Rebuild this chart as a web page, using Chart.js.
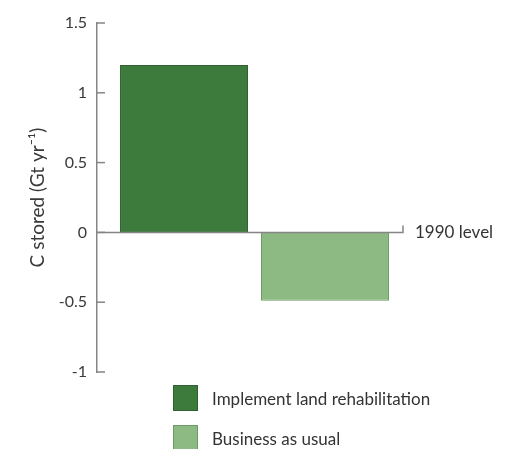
<!DOCTYPE html>
<html lang="en">
<head>
    <meta charset="UTF-8">
    <title>C stored</title>
    <style>
        body {
            margin: 0;
            background: #fff;
            font-family: Lato, "Open Sans", sans-serif;
        }
        #wrap {
            position: relative;
            width: 514px;
            height: 449px;
            overflow: hidden;
        }
        #legend {
            position: absolute;
            left: 173px;
            top: 385px;
        }
        .item {
            display: flex;
            align-items: center;
            height: 26px;
            margin-bottom: 14px;
            font-size: 17px;
            color: #333;
        }
        .box {
            width: 25px;
            height: 26px;
            margin-right: 14px;
            box-sizing: border-box;
        }
    </style>
    <script src="https://cdn.jsdelivr.net/npm/chart.js"></script>
</head>
<body>
    <div id="wrap">
        <canvas id="chart" width="514" height="449"></canvas>
        <div id="legend"></div>
    </div>

    <script>
        // Data
        let seriesNames = ['Implement land rehabilitation', 'Business as usual'];
        let seriesValues = [1.2, -0.49];
        let seriesColors = ['#3d7b3c', '#8dba82'];
        let seriesBorders = ['#2f6230', '#6f9a66'];
        let yTicks = [-1, -0.5, 0, 0.5, 1, 1.5];
        let refLabel = '1990 level';

        let axisColor = '#858585';

        // Inside tick marks, zero line with end hook and its label
        let axisExtras = {
            id: 'axisExtras',
            afterDraw(chart) {
                let ctx = chart.ctx;
                let y = chart.scales.y;
                let area = chart.chartArea;
                ctx.save();
                ctx.strokeStyle = axisColor;
                ctx.lineWidth = 1.5;
                yTicks.forEach(t => {
                    let py = y.getPixelForValue(t);
                    ctx.beginPath();
                    ctx.moveTo(area.left, py);
                    ctx.lineTo(area.left + 8, py);
                    ctx.stroke();
                });
                let zy = y.getPixelForValue(0);
                let endX = area.right - 9;
                ctx.beginPath();
                ctx.moveTo(area.left, zy);
                ctx.lineTo(endX, zy);
                ctx.lineTo(endX, zy - 7);
                ctx.stroke();
                ctx.fillStyle = '#333';
                ctx.font = '17px Lato, "Open Sans", sans-serif';
                ctx.textBaseline = 'middle';
                ctx.fillText(refLabel, endX + 12, zy);
                ctx.restore();
            }
        };

        let ctx = document.getElementById('chart').getContext('2d');
        let chart = new Chart(ctx, {
            type: 'bar',
            data: {
                labels: [''],
                datasets: seriesNames.map((name, i) => ({
                    label: name,
                    data: [seriesValues[i]],
                    backgroundColor: seriesColors[i],
                    borderColor: seriesBorders[i],
                    borderWidth: 1,
                    categoryPercentage: 0.895,
                    barPercentage: 0.908
                }))
            },
            options: {
                responsive: false,
                animation: false,
                layout: {
                    padding: { left: 24, right: 102, top: 23, bottom: 77 }
                },
                plugins: {
                    legend: { display: false },
                    tooltip: { enabled: false }
                },
                scales: {
                    x: {
                        display: false
                    },
                    y: {
                        min: -1,
                        max: 1.5,
                        afterBuildTicks(scale) {
                            scale.ticks = yTicks.map(v => ({ value: v }));
                        },
                        afterFit(scale) {
                            scale.width = 73;
                        },
                        grid: { display: false, drawTicks: false },
                        border: { display: true, color: axisColor, width: 1.5 },
                        ticks: {
                            color: '#3a3a3a',
                            padding: 10,
                            font: { family: 'Lato', size: 16 },
                            callback: v => String(v)
                        },
                        title: {
                            display: true,
                            text: 'C stored (Gt yr\u207B\u00B9)',
                            color: '#3a3a3a',
                            padding: { top: 2, bottom: 0 },
                            font: { family: 'Lato', size: 19 }
                        }
                    }
                }
            },
            plugins: [axisExtras]
        });

        // Vertical legend under the plot
        let legend = document.getElementById('legend');
        seriesNames.forEach((name, i) => {
            let item = document.createElement('div');
            item.className = 'item';
            let box = document.createElement('div');
            box.className = 'box';
            box.style.background = seriesColors[i];
            box.style.border = '1px solid ' + seriesBorders[i];
            let text = document.createElement('span');
            text.textContent = name;
            item.appendChild(box);
            item.appendChild(text);
            legend.appendChild(item);
        });
    </script>
</body>
</html>
